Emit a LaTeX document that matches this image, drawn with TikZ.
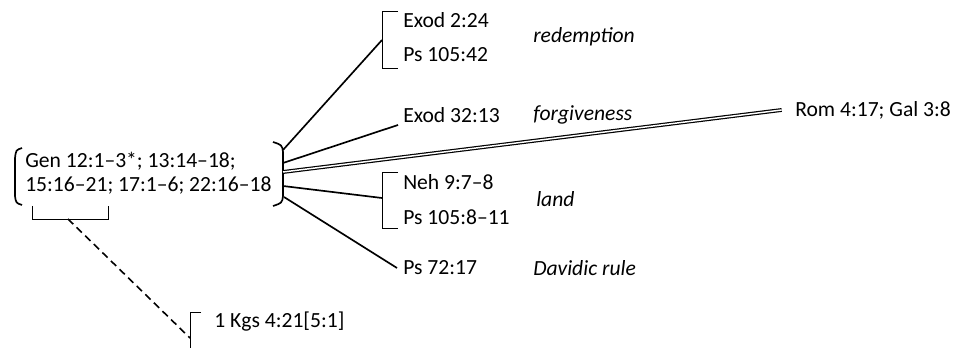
\documentclass[tikz,border=0pt]{standalone}
\usepackage{fontspec}
\setmainfont{Carlito}
\usepackage{tikz}
\usetikzlibrary{positioning, calc}

\begin{document}
\begin{tikzpicture}[x=0.75pt, y=-0.75pt,
		ref/.style      = {anchor=west, inner sep=0pt, align=left,
			font=\fontsize{16.2}{18}\selectfont},
		theme/.style    = {ref, font=\fontsize{16.2}{18}\selectfont\itshape},
		link/.style     = {line width=1.25pt},
		brak/.style     = {line width=0.7pt},
		echo/.style     = {line width=0.9pt, double, double distance=1.1pt},
		hint/.style     = {line width=1.2pt, dash pattern=on 5.5pt off 3.5pt}
		]
		\useasboundingbox[fill=white] (0,0) rectangle (965,348);
		
		% source texts
		\node[ref] (gen) at (25,173) {Gen 12:1--3*; 13:14--18;\\15:16--21; 17:1--6; 22:16--18};
		\draw[link] (22,148) .. controls (16,150) .. (15,158) -- (15,196) .. controls (16,203) .. (22,205);
		\draw[link] (273,142) .. controls (282,145) .. (283,152) -- (283,196) .. controls (282,203) .. (273,206);
		\draw[brak] (32,206) -- (32,219) -- (108,219) -- (108,206);
		
		\coordinate (bt) at (283,150);
		\coordinate (bf) at (283,163);
		\coordinate (bd) at (283,172);
		\coordinate (bl) at (283,186);
		\coordinate (bb) at (284,197);
		\coordinate (gu) at (68,219);
		
		% redemption
		\node[ref] (exod2) at (403,20) {Exod 2:24};
		\node[ref] (ps42) at (403,55) {Ps 105:42};
		\node[theme] (redemption) at (533,37) {redemption};
		\draw[brak] (398,11) -- (382,11) -- (382,68) -- (398,68);
		\coordinate (rm) at (382,40);
		
		% forgiveness
		\node[ref] (exod32) at (403,115) {Exod 32:13};
		\node[theme] (forgiveness) at (533,115) {forgiveness};
		\coordinate (fe) at (398,125);
		\node[ref] (rom) at (795,110) {Rom 4:17; Gal 3:8};
		
		% land
		\node[ref] (neh) at (403,182) {Neh 9:7--8};
		\node[ref] (ps811) at (403,217) {Ps 105:8--11};
		\node[theme] (land) at (536,199) {land};
		\draw[brak] (398,172) -- (382,172) -- (382,228) -- (398,228);
		\coordinate (lm) at (382,198);
		
		% Davidic rule
		\node[ref] (ps72) at (403,268) {Ps 72:17};
		\node[theme] (davidic) at (533,268) {Davidic rule};
		\coordinate (de) at (397,268);
		
		% 1 Kgs
		\node[ref] (kgs) at (214,322) {1 Kgs 4:21[5:1]};
		\draw[brak] (201,312) -- (190,312) -- (190,348);
		\coordinate (kj) at (190,338);
		
		\draw[link] (bt) -- (rm);
		\draw[link] (bf) -- (fe);
		\draw[echo] (bd) -- ([xshift=-10]rom.west);
		\draw[link] (bl) -- (lm);
		\draw[link] (bb) -- (de);
		\draw[hint] (gu) -- (kj);
	\end{tikzpicture}
\end{document}
